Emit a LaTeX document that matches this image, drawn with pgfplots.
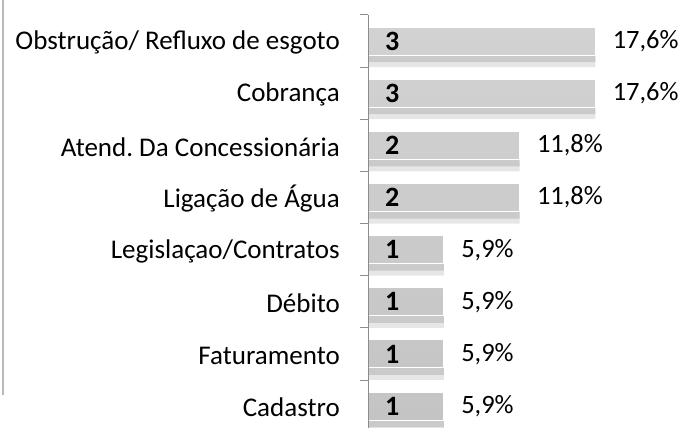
\documentclass[border=0pt]{standalone}
\usepackage{fontspec}
\setmainfont{Carlito}
\usepackage{pgfplots}
\pgfplotsset{compat=1.18}
\usepackage{pgfplotstable}
\frenchspacing
\definecolor{bartop}{HTML}{D2D2D2}
\definecolor{barmid}{HTML}{C8C8C8}
\definecolor{barbot}{HTML}{C4C4C4}
\definecolor{shadowA}{HTML}{CACACA}
\definecolor{shadowB}{HTML}{E6E6E6}
\definecolor{axisgray}{HTML}{8C8C8C}

\pgfplotstableread{
idx count pct
7 3 17.6
6 3 17.6
5 2 11.8
4 2 11.8
3 1 5.9
2 1 5.9
1 1 5.9
0 1 5.9
}\datatable

\begin{document}
\begin{tikzpicture}
\path[use as bounding box] (0bp,0bp) rectangle (680bp,428bp);
\draw[gray!55, line width=1.2bp] (3bp,33bp) -- (3bp,428bp);
\begin{axis}[
  at={(368bp,413bp)}, anchor=north west,
  scale only axis, width=303bp, height=417.2bp,
  xmin=0, xmax=4, ymin=-0.5, ymax=7.5,
  axis x line=none, axis y line*=left,
  axis line style={-, draw=axisgray, line width=1bp},
  ytick={0,...,7},
  yticklabels={Cadastro,Faturamento,Débito,Legislaçao/Contratos,Ligação de Água,Atend. Da Concessionária,Cobrança,Obstrução/ Refluxo de esgoto},
  minor ytick={-0.5,0.5,...,7.5},
  major tick length=0pt, minor tick length=8bp, tick align=outside,
  tick style={draw=axisgray, line width=1bp},
  minor tick style={draw=axisgray, line width=1bp},
  yticklabel style={anchor=east, inner sep=0pt, xshift=-28bp, yshift=-1.5bp, font=\fontsize{27bp}{30bp}\selectfont},
  clip=false,
]
% shadow bands under each bar
\addplot[xbar, bar width=8bp, bar shift=-22bp, draw=none, fill=shadowB, forget plot]
  table[x=count, y=idx]{\datatable};
\addplot[xbar, bar width=7bp, bar shift=-17.5bp, draw=none, fill=shadowA, forget plot]
  table[x=count, y=idx]{\datatable};
% bars with percentage labels
\addplot[xbar, bar width=28bp, draw=white, line width=1bp,
  top color=bartop, middle color=barmid, bottom color=barbot,
  point meta=explicit,
  nodes near coords={\pgfmathprintnumber[fixed, fixed zerofill, precision=1, use comma, assume math mode=true]{\pgfplotspointmeta}\%},
  every node near coord/.append style={anchor=west, inner sep=0pt, xshift=17bp, text=black, font=\fontsize{26.5bp}{30bp}\selectfont}]
  table[x=count, y=idx, meta=pct]{\datatable};
% counts inside bars
\addplot[draw=none, mark=none, point meta=explicit,
  nodes near coords={\textbf{\pgfmathprintnumber[assume math mode=true]{\pgfplotspointmeta}}},
  every node near coord/.append style={anchor=west, inner sep=0pt, xshift=17bp, text=black, font=\fontsize{28bp}{30bp}\selectfont}]
  table[x expr=0, y=idx, meta=count]{\datatable};
% axis line redrawn above the bars
\draw[axisgray, line width=1bp] (rel axis cs:0,0) -- (rel axis cs:0,1);
\end{axis}
\end{tikzpicture}
\end{document}
